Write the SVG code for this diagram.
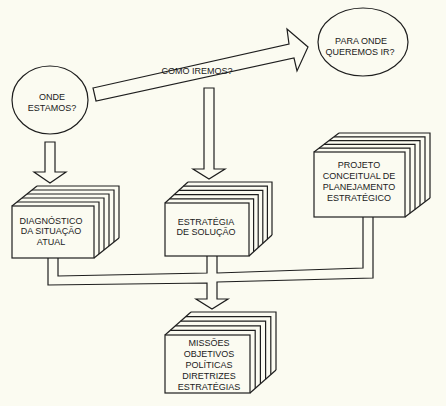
<svg xmlns="http://www.w3.org/2000/svg" width="446" height="406" viewBox="0 0 446 406">
<style>
.ln{fill:none;stroke:#1e1e1e;stroke-width:1.2;stroke-linejoin:miter}
.sh{fill:#fbfbf1;stroke:#1e1e1e;stroke-width:1.2;stroke-linejoin:miter}
.t{font-family:"Liberation Sans",Arial,sans-serif;font-size:9px;fill:#1a1a1a;text-anchor:middle}
</style>
<rect width="446" height="406" fill="#fbfbf1"/>

<g id="connectors">
<!-- big arrow: COMO IREMOS? -->
<polygon class="sh" points="93,88 289,44 287,29 308,47 297,71 294,58 96,101"/>
<!-- down arrow from ONDE ESTAMOS? -->
<polygon class="sh" points="45,142 55,142 55,172 66,172 50,183 34,172 45,172"/>
<!-- down arrow from big arrow to ESTRATEGIA -->
<polygon class="sh" points="204,88 214,88 214,169 225,169 209,179 193,169 204,169"/>
<!-- pipes to MISSOES -->
<polyline class="ln" points="48,258 48,285 207,283 207,299 196,299 212,309 228,299 217,299 217,282 373,278 373,217"/>
<polyline class="ln" points="58,258 58,276 207,273 207,256"/>
<polyline class="ln" points="217,256 217,273 363,268 363,217"/>
</g>

<g id="onde-estamos">
<ellipse class="sh" cx="50" cy="100" rx="38" ry="34"/>
<text class="t" x="52" y="100">ONDE</text>
<text class="t" x="52" y="111">ESTAMOS?</text>
</g>

<g id="para-onde">
<ellipse class="sh" cx="363" cy="42" rx="45" ry="34"/>
<text class="t" x="361" y="44">PARA ONDE</text>
<text class="t" x="360" y="55">QUEREMOS IR?</text>
</g>

<g id="como-iremos">
<text class="t" x="197" y="74">COMO IREMOS?</text>
</g>

<g id="diagnostico">
<polyline class="ln" points="37,186 119,186 119,238"/>
<polyline class="ln" points="32,190 114,190 114,242"/>
<polyline class="ln" points="27,194 109,194 109,246"/>
<polyline class="ln" points="22,198 104,198 104,250"/>
<polyline class="ln" points="17,202 99,202 99,254"/>
<line class="ln" x1="12" y1="206" x2="37" y2="186"/>
<line class="ln" x1="94" y1="258" x2="119" y2="238"/>
<rect class="sh" x="12" y="206" width="82" height="52"/>
<text class="t" x="51" y="224">DIAGNÓSTICO</text>
<text class="t" x="51" y="234">DA SITUAÇÃO</text>
<text class="t" x="51" y="245">ATUAL</text>
</g>

<g id="estrategia">
<polyline class="ln" points="188,182 272,182 272,235"/>
<polyline class="ln" points="183.4,186.2 267.4,186.2 267.4,239.2"/>
<polyline class="ln" points="178.8,190.4 262.8,190.4 262.8,243.4"/>
<polyline class="ln" points="174.2,194.6 258.2,194.6 258.2,247.6"/>
<polyline class="ln" points="169.6,198.8 253.6,198.8 253.6,251.8"/>
<line class="ln" x1="165" y1="203" x2="188" y2="182"/>
<line class="ln" x1="249" y1="256" x2="272" y2="235"/>
<rect class="sh" x="165" y="203" width="84" height="53"/>
<text class="t" x="206" y="225">ESTRATÉGIA</text>
<text class="t" x="206" y="235">DE SOLUÇÃO</text>
</g>

<g id="projeto">
<polyline class="ln" points="339,133 430,133 430,198"/>
<polyline class="ln" points="334,136.8 425,136.8 425,201.8"/>
<polyline class="ln" points="329,140.6 420,140.6 420,205.6"/>
<polyline class="ln" points="324,144.4 415,144.4 415,209.4"/>
<polyline class="ln" points="319,148.2 410,148.2 410,213.2"/>
<line class="ln" x1="314" y1="152" x2="339" y2="133"/>
<line class="ln" x1="405" y1="217" x2="430" y2="198"/>
<rect class="sh" x="314" y="152" width="91" height="65"/>
<text class="t" x="359" y="168">PROJETO</text>
<text class="t" x="359" y="179">CONCEITUAL DE</text>
<text class="t" x="359" y="190">PLANEJAMENTO</text>
<text class="t" x="359" y="201">ESTRATÉGICO</text>
</g>

<g id="missoes">
<polyline class="ln" points="191,312 276,312 276,370"/>
<polyline class="ln" points="185.8,316.6 270.8,316.6 270.8,374.6"/>
<polyline class="ln" points="180.6,321.2 265.6,321.2 265.6,379.2"/>
<polyline class="ln" points="175.4,325.8 260.4,325.8 260.4,383.8"/>
<polyline class="ln" points="170.2,330.4 255.2,330.4 255.2,388.4"/>
<line class="ln" x1="165" y1="335" x2="191" y2="312"/>
<line class="ln" x1="250" y1="393" x2="276" y2="370"/>
<rect class="sh" x="165" y="335" width="85" height="58"/>
<text class="t" x="209" y="346">MISSÕES</text>
<text class="t" x="209" y="357">OBJETIVOS</text>
<text class="t" x="209" y="368">POLÍTICAS</text>
<text class="t" x="209" y="379">DIRETRIZES</text>
<text class="t" x="209" y="390">ESTRATÉGIAS</text>
</g>
</svg>
